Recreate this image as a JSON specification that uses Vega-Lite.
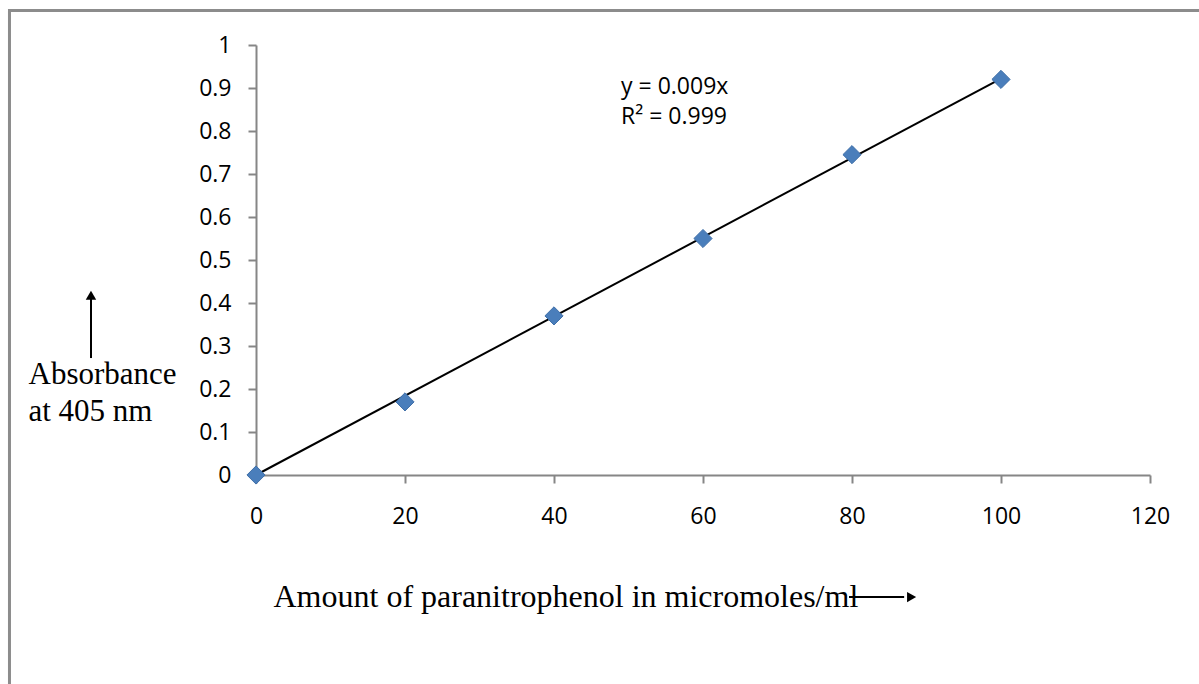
{
  "$schema": "https://vega.github.io/schema/vega-lite/v6.json",
  "width": 894,
  "height": 430,
  "autosize": {"type": "none"},
  "padding": {"left": 256, "top": 45, "right": 49, "bottom": 209},
  "background": "white",
  "config": {
    "view": {"stroke": null},
    "axis": {"grid": false, "domainColor": "#868686", "domainWidth": 2, "tickColor": "#868686", "tickWidth": 2, "tickSize": 8, "labelFont": "Open Sans", "labelFontSize": 23, "labelColor": "#000000", "labelFlush": false, "titleFont": "Liberation Serif", "titleFontWeight": "normal", "titleColor": "#000000"}
  },
  "datasets": {
    "points": [
      {"x": 0, "y": 0},
      {"x": 20, "y": 0.17},
      {"x": 40, "y": 0.37},
      {"x": 60, "y": 0.55},
      {"x": 80, "y": 0.745},
      {"x": 100, "y": 0.92}
    ],
    "trend": [
      {"x": 0, "y": 0},
      {"x": 100, "y": 0.922}
    ],
    "eqn": [
      {"x": 49, "y": 0.902, "t": "y = 0.009x"},
      {"x": 49, "y": 0.833, "t": "R² = 0.999"}
    ],
    "frame": [
      {"x": -33.09, "x2": 140, "y": 1.0802, "y2": -1}
    ],
    "arrowLines": [
      {"x": -22.15, "x2": -22.15, "y": 0.272, "y2": 0.41},
      {"x": 79.6, "x2": 87.0, "y": -0.284, "y2": -0.284}
    ],
    "arrowHeadUp": [
      {"x": -22.15, "y": 0.418}
    ],
    "arrowHeadRight": [
      {"x": 88.0, "y": -0.284}
    ]
  },
  "layer": [
    {
      "data": {"name": "frame"},
      "mark": {"type": "rect", "fill": null, "stroke": "#8c8c8c", "strokeWidth": 3, "clip": false},
      "encoding": {
        "x": {"field": "x", "type": "quantitative", "scale": {"domain": [0, 120]}},
        "x2": {"field": "x2"},
        "y": {"field": "y", "type": "quantitative", "scale": {"domain": [0, 1]}},
        "y2": {"field": "y2"}
      }
    },
    {
      "data": {"name": "trend"},
      "mark": {"type": "line", "color": "#000000", "strokeWidth": 2},
      "encoding": {
        "x": {"field": "x", "type": "quantitative", "scale": {"domain": [0, 120]},
          "axis": {"values": [0, 20, 40, 60, 80, 100, 120], "labelPadding": 22, "title": "Amount of paranitrophenol in micromoles/ml", "titleFontSize": 32, "titleAlign": "left", "titleAnchor": "start", "titleX": 17, "titleY": 131, "titleBaseline": "alphabetic"}},
        "y": {"field": "y", "type": "quantitative", "scale": {"domain": [0, 1]},
          "axis": {"values": [0, 0.1, 0.2, 0.3, 0.4, 0.5, 0.6, 0.7, 0.8, 0.9, 1], "format": ".1~f", "labelPadding": 17, "title": ["Absorbance", "at 405 nm"], "titleFontSize": 31, "titleAngle": 0, "titleAlign": "left", "titleX": -228, "titleY": 338, "titleBaseline": "alphabetic", "titleLineHeight": 37}}
      }
    },
    {
      "data": {"name": "points"},
      "mark": {"type": "point", "shape": "diamond", "filled": true, "size": 330, "fill": "#4a7ebb", "stroke": "#3f6fa8", "strokeWidth": 1, "opacity": 1},
      "encoding": {
        "x": {"field": "x", "type": "quantitative"},
        "y": {"field": "y", "type": "quantitative"}
      }
    },
    {
      "data": {"name": "eqn"},
      "mark": {"type": "text", "align": "left", "baseline": "middle", "font": "Open Sans", "fontSize": 23, "color": "#000000"},
      "encoding": {
        "x": {"field": "x", "type": "quantitative"},
        "y": {"field": "y", "type": "quantitative"},
        "text": {"field": "t"}
      }
    },
    {
      "data": {"name": "arrowLines"},
      "mark": {"type": "rule", "color": "#000000", "strokeWidth": 2, "clip": false},
      "encoding": {
        "x": {"field": "x", "type": "quantitative"},
        "x2": {"field": "x2"},
        "y": {"field": "y", "type": "quantitative"},
        "y2": {"field": "y2"}
      }
    },
    {
      "data": {"name": "arrowHeadUp"},
      "mark": {"type": "point", "shape": "triangle-up", "filled": true, "size": 110, "color": "#000000", "opacity": 1, "clip": false},
      "encoding": {
        "x": {"field": "x", "type": "quantitative"},
        "y": {"field": "y", "type": "quantitative"}
      }
    },
    {
      "data": {"name": "arrowHeadRight"},
      "mark": {"type": "point", "shape": "triangle-right", "filled": true, "size": 110, "color": "#000000", "opacity": 1, "clip": false},
      "encoding": {
        "x": {"field": "x", "type": "quantitative"},
        "y": {"field": "y", "type": "quantitative"}
      }
    }
  ]
}
